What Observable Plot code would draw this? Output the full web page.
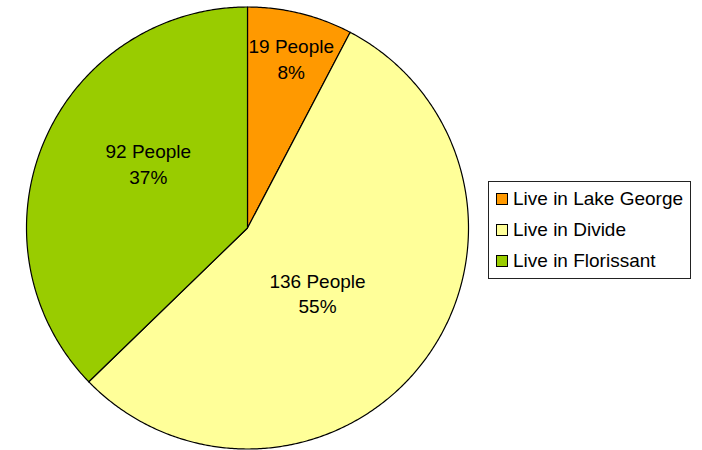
<!DOCTYPE html>
<html><head><meta charset="utf-8">
<script src="https://cdn.jsdelivr.net/npm/d3@7"></script>
<script src="https://cdn.jsdelivr.net/npm/@observablehq/plot@0.6"></script>
<style>
body{margin:0;background:#fff;font-family:"Liberation Sans",Arial,sans-serif;}
#wrap{position:relative;width:702px;height:450px;overflow:hidden;}
#legend{position:absolute;left:488px;top:181px;width:203px;height:98px;border:1px solid #222;box-sizing:border-box;background:#fff;}
.item{position:absolute;left:7px;height:20px;line-height:20px;font-size:19px;color:#000;white-space:nowrap;}
.sw{display:inline-block;width:10px;height:10px;border:1px solid #000;vertical-align:middle;margin-right:5px;position:relative;top:-1px;}
</style></head>
<body>
<div id="wrap"></div>
<script>
const categories = ["Live in Lake George", "Live in Divide", "Live in Florissant"];
const counts = [19, 136, 92];
const percentLabels = ["8%", "55%", "37%"];
const colors = ["#FF9900", "#FFFF99", "#99CC00"];

const pie = d3.pie().sort(null).value(d => d.count)(categories.map((c, i) => ({name: c, count: counts[i], pct: percentLabels[i]})));

// slice polygons (angles clockwise from 12 o'clock)
const pts = [];
pie.forEach(s => {
  const name = s.data.name;
  pts.push({name, x: 0, y: 0});
  const n = Math.max(2, Math.ceil((s.endAngle - s.startAngle) / (Math.PI / 360)));
  for (let k = 0; k <= n; k++) {
    const a = s.startAngle + (s.endAngle - s.startAngle) * k / n;
    pts.push({name, x: Math.sin(a), y: Math.cos(a)});
  }
  pts.push({name, x: 0, y: 0});
});

// label placement (radius fraction / angle tweak per slice, like the spreadsheet's best fit)
const labelFit = [{r: 0.795, da: 0.01}, {r: 0.43, da: 0.1}, {r: 0.537, da: 0.18}];
const labels = pie.map((s, i) => {
  const a = (s.startAngle + s.endAngle) / 2 + labelFit[i].da;
  return {x: labelFit[i].r * Math.sin(a), y: labelFit[i].r * Math.cos(a), text: `${s.data.count} People\n${s.data.pct}`};
});

const plot = Plot.plot({
  width: 702, height: 450,
  margin: 0,
  x: {domain: [-1, 1], range: [26, 468], axis: null},
  y: {domain: [-1, 1], range: [448.5, 6.5], axis: null},
  color: {domain: categories, range: colors},
  marks: [
    Plot.line(pts, {x: "x", y: "y", z: "name", fill: "name", stroke: "#000", strokeWidth: 1.2, curve: "linear"}),
    Plot.text(labels, {x: "x", y: "y", text: "text", fill: "#000", fontSize: 19, lineHeight: 1.35, fontFamily: "Liberation Sans, Arial, sans-serif"})
  ]
});
plot.style.fontFamily = "Liberation Sans, Arial, sans-serif";
const wrap = document.getElementById("wrap");
wrap.appendChild(plot);

const legend = document.createElement("div");
legend.id = "legend";
categories.forEach((c, i) => {
  const it = document.createElement("div");
  it.className = "item";
  it.style.top = (7 + i * 31) + "px";
  const sw = document.createElement("span");
  sw.className = "sw";
  sw.style.background = colors[i];
  it.appendChild(sw);
  it.appendChild(document.createTextNode(c));
  legend.appendChild(it);
});
wrap.appendChild(legend);
</script>
</body></html>
